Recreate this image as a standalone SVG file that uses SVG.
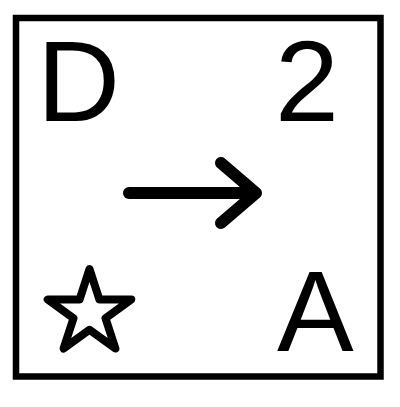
<svg xmlns="http://www.w3.org/2000/svg" width="400" height="407" viewBox="0 0 400 407">
<style>
.lbl{font-family:"Liberation Sans",Arial,sans-serif;font-size:115px;fill:#000}
.ln{fill:none;stroke:#000;stroke-linecap:round;stroke-linejoin:round}
</style>
<rect width="400" height="407" fill="#fff"/>
<g id="frame"><rect x="16" y="18" width="364.5" height="358.5" fill="none" stroke="#000" stroke-width="6.5"/></g>
<g id="nodeD"><text class="lbl" x="37" y="121">D</text></g>
<g id="node2"><text class="lbl" x="275" y="121">2</text></g>
<g id="nodeA"><text class="lbl" x="277" y="351">A</text></g>
<g id="star"><polygon class="ln" stroke-width="8" points="89.5,269 99.4,299.4 131.3,299.4 105.5,318.2 115.4,348.6 89.5,329.8 63.6,348.6 73.5,318.2 47.7,299.4 79.6,299.4"/></g>
<g id="connectors">
<line class="ln" x1="129" y1="193" x2="254" y2="193" stroke-width="12"/>
<polyline class="ln" points="221,163 256,193 221,223" stroke-width="12"/>
</g>
</svg>
